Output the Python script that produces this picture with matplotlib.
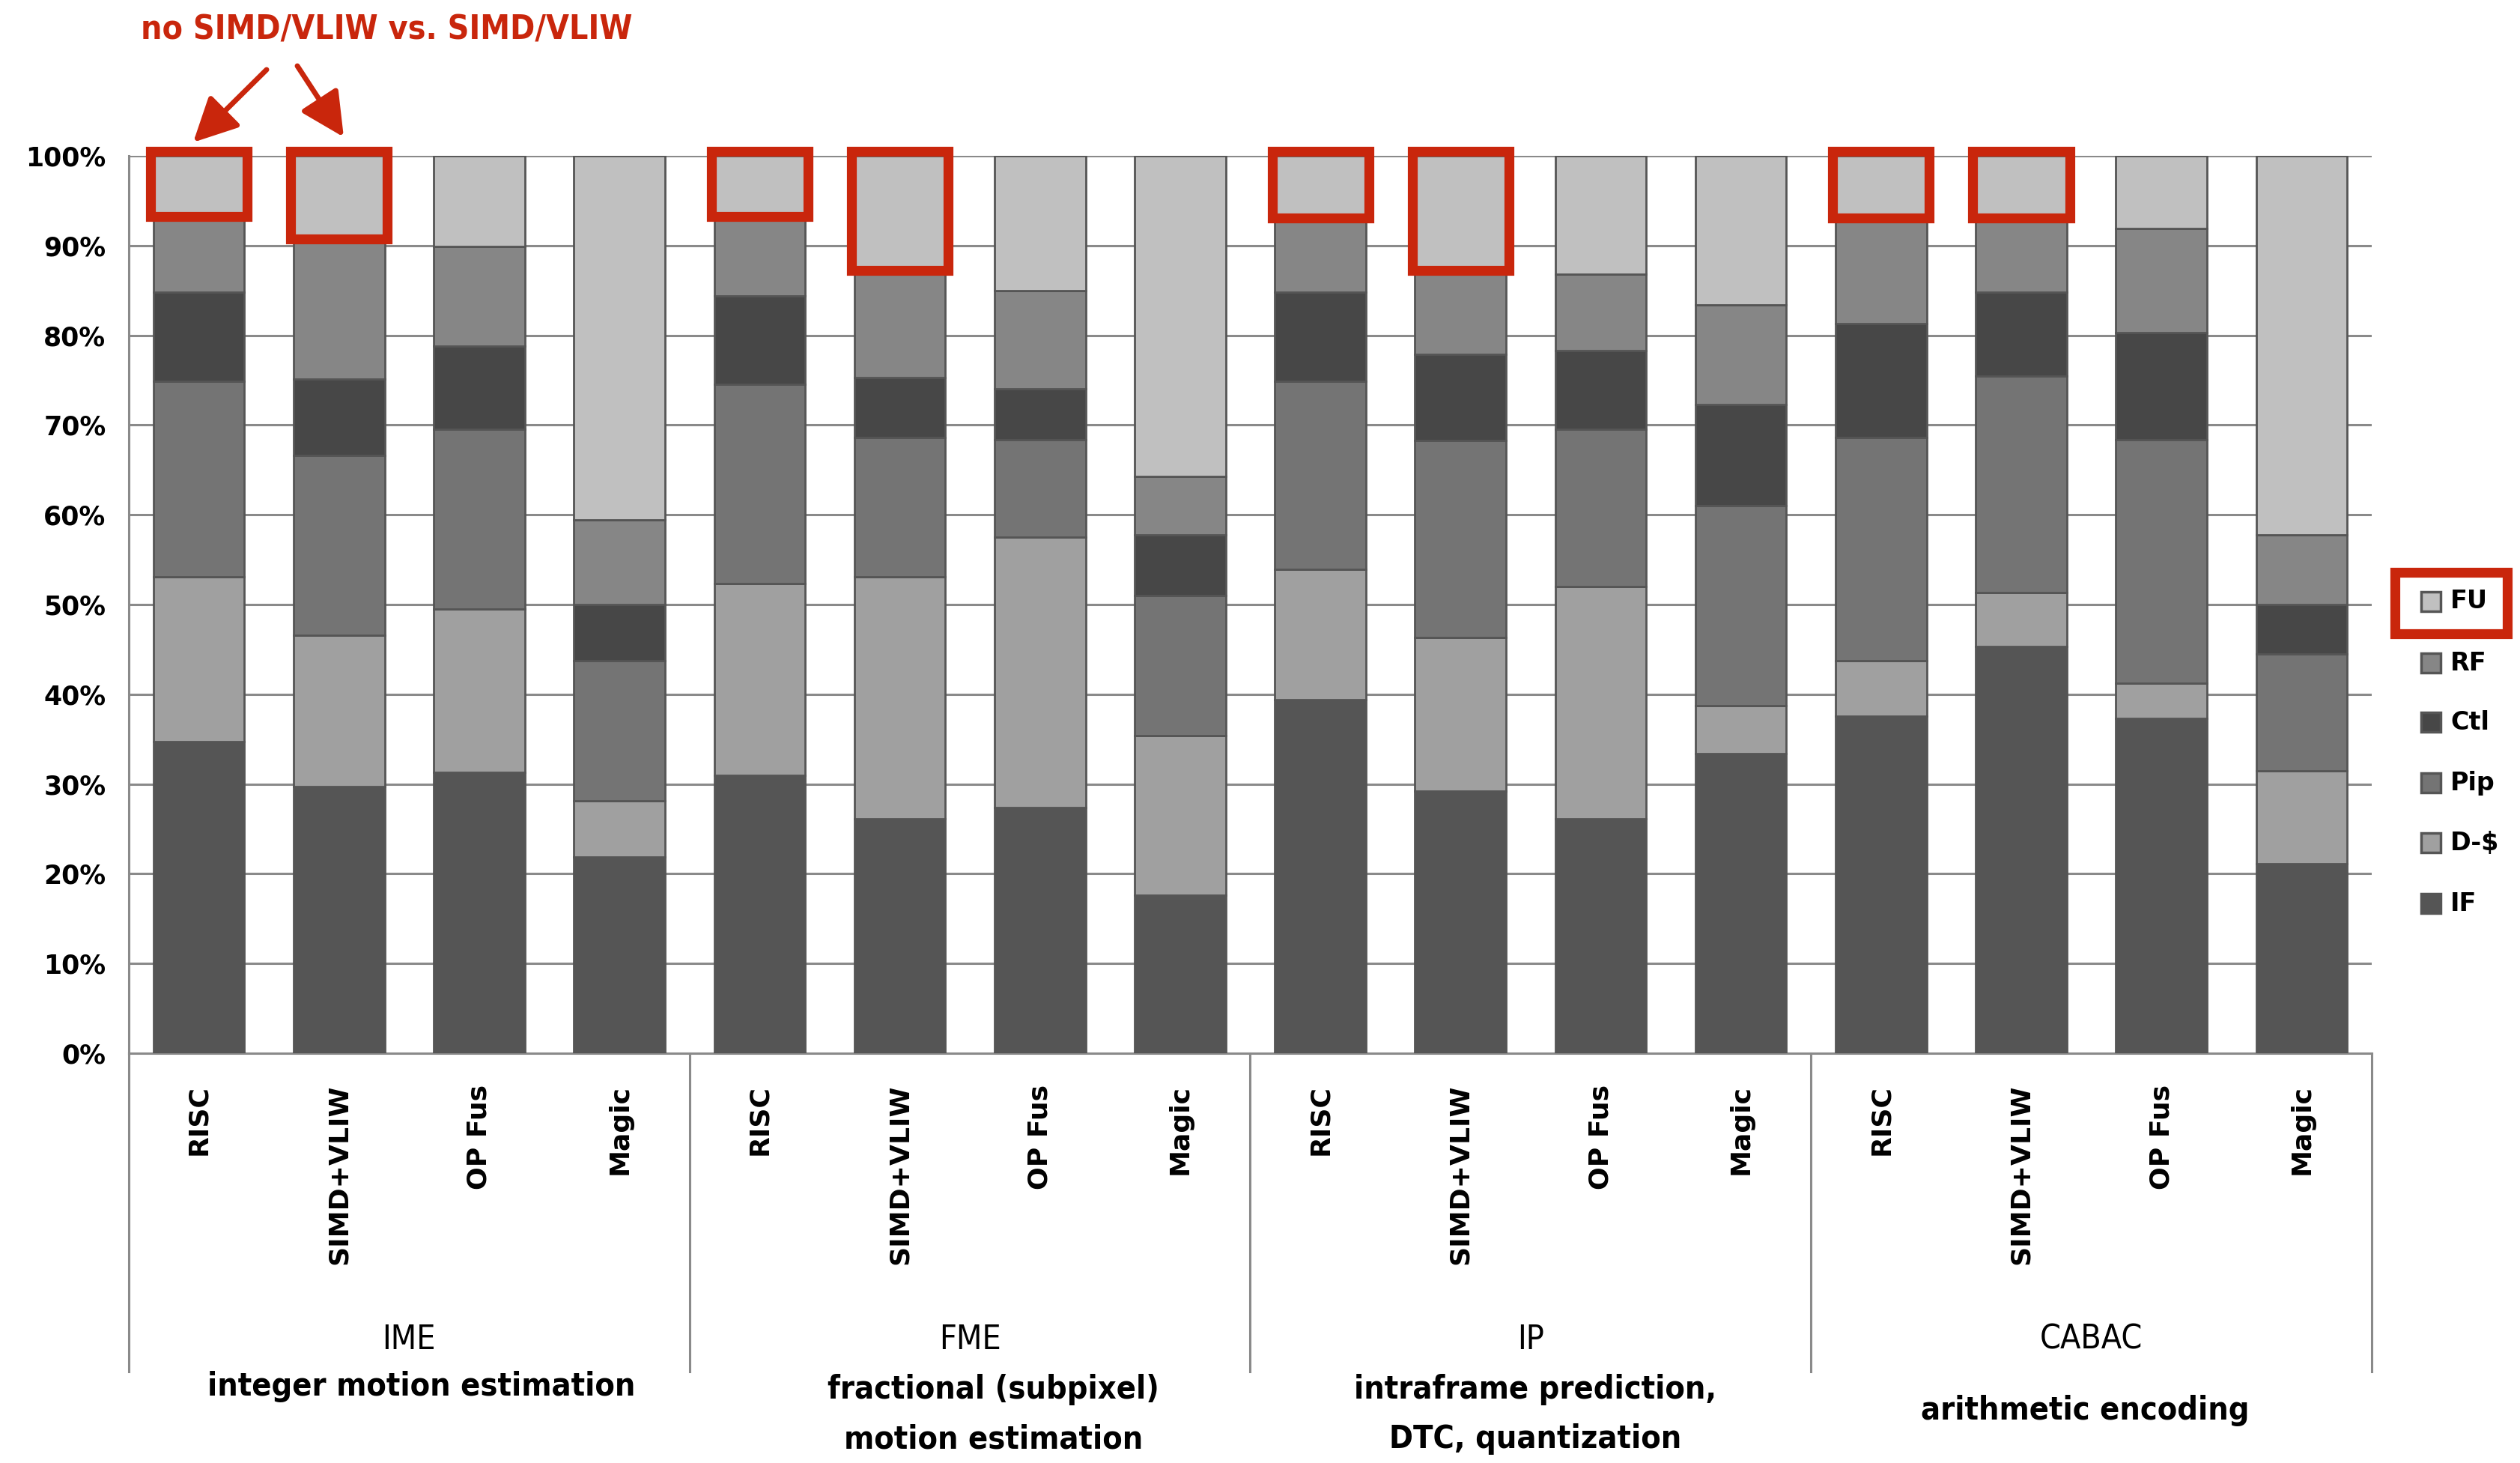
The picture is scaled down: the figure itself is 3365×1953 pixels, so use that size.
import matplotlib
matplotlib.use("Agg")
import matplotlib.pyplot as plt
from matplotlib.patches import Rectangle
import numpy as np

W, H = 3366, 1953

# data: percentage share per component, bottom to top
components = ["IF", "D-$", "Pip", "Ctl", "RF", "FU"]
bar_labels = ["RISC", "SIMD+VLIW", "OP Fus", "Magic"] * 4
groups = ["IME", "FME", "IP", "CABAC"]
group_desc = ["integer motion estimation", "fractional (subpixel)\nmotion estimation",
              "intraframe prediction,\nDTC, quantization", "arithmetic encoding"]

IF  = [34.7, 29.7, 31.3, 21.9, 31.0, 26.1, 27.4, 17.6, 39.4, 29.2, 26.1, 33.4, 37.6, 45.3, 37.3, 21.1]
DS  = [18.4, 16.9, 18.2,  6.2, 21.3, 27.0, 30.1, 17.8, 14.5, 17.1, 25.9,  5.3,  6.1,  6.0,  3.9, 10.4]
PIP = [21.8, 20.0, 20.0, 15.6, 22.2, 15.5, 10.9, 15.6, 21.0, 22.0, 17.5, 22.3, 24.9, 24.2, 27.2, 13.0]
CTL = [ 9.9,  8.5,  9.3,  6.3,  9.9,  6.7,  5.6,  6.8,  9.9,  9.6,  8.8, 11.3, 12.7,  9.3, 11.9,  5.5]
RF  = [ 8.7, 15.9, 11.1,  9.4,  9.1, 12.2, 11.0,  6.5,  8.6,  9.6,  8.5, 11.1, 12.1,  8.6, 11.6,  7.8]
FU  = [ 6.5,  9.0, 10.1, 40.6,  6.5, 12.5, 15.0, 35.7,  6.6, 12.5, 13.2, 16.6,  6.6,  6.6,  8.1, 42.2]
series = [IF, DS, PIP, CTL, RF, FU]
colors = ["#555555", "#a0a0a0", "#747474", "#474747", "#868686", "#c0c0c0"]
highlight = [0, 1, 4, 5, 8, 9, 12, 13]

RED = "#c9260c"
GRID = "#8a8a8a"


def fx(px):
    return px / W


def fy(py):
    return 1 - py / H


fig = plt.figure(figsize=(W / 100, H / 100), dpi=100)
ax = fig.add_axes([fx(172), fy(1406), fx(3167) - fx(172), fy(208) - fy(1406)])

x = np.arange(len(bar_labels))
bw = 0.65
bottom = np.zeros(len(x))
for vals, col in zip(series, colors):
    ax.bar(x, vals, bw, bottom=bottom, color=col, edgecolor="#555555", linewidth=2, zorder=3)
    bottom += np.array(vals)

ax.set_xlim(-0.5, len(x) - 0.5)
ax.set_ylim(0, 100)
ax.set_yticks(np.arange(0, 101, 10))
ax.set_yticklabels([f"{v}%" for v in range(0, 101, 10)], fontsize=25, fontweight="bold")
ax.tick_params(axis="y", length=0, pad=22)
ax.set_xticks([])
ax.yaxis.grid(True, color=GRID, linewidth=2.2, zorder=0)
for s in ["top", "right"]:
    ax.spines[s].set_visible(False)
for s in ["left", "bottom"]:
    ax.spines[s].set_color(GRID)
    ax.spines[s].set_linewidth(2.2)

# red boxes around FU segments of RISC and SIMD+VLIW bars
fu_base = 100 - np.array(FU)
for i in highlight:
    ax.add_patch(Rectangle((x[i] - bw / 2 - 0.02, fu_base[i] - 0.3), bw + 0.04, 100.5 - fu_base[i] + 0.3,
                           fill=False, edgecolor=RED, linewidth=9.5, zorder=5, clip_on=False,
                           joinstyle="miter"))

# category labels and group separators
trans = ax.get_xaxis_transform()
for i, lab in enumerate(bar_labels):
    ax.text(x[i], -0.035, lab, transform=trans, rotation=90, ha="center", va="top",
            fontsize=26, fontweight="bold")
for g in range(len(groups) + 1):
    ax.plot([g * 4 - 0.5] * 2, [0, -0.355], transform=trans, color=GRID, linewidth=2.2, clip_on=False)

narrow = dict(family="DejaVu Sans", fontstretch="condensed")
desc_x = [262, 618, 955, 1297]
desc_y = [1851, 1888, 1888, 1883]
for g, name in enumerate(groups):
    ax.text(g * 4 + 1.5, -0.319, name, transform=trans, ha="center", va="center",
            fontsize=32, **narrow)
    fig.text(fx(desc_x[g] / 0.4658), fy(desc_y[g]), group_desc[g], ha="center", va="center",
             fontsize=31, fontweight="bold", linespacing=1.75, **narrow)

# legend, drawn by hand to the right of the plot
leg_y = [1206, 1125, 1045, 964, 885, 803]
for name, col, py in zip(components, colors, leg_y):
    fig.patches.append(Rectangle((fx(3233), fy(py + 13)), fx(26), 26 / H, transform=fig.transFigure,
                                 facecolor=col, edgecolor="#555555", linewidth=2.5))
    fig.text(fx(3272), fy(py), name, ha="left", va="center", fontsize=24, fontweight="bold")
fig.patches.append(Rectangle((fx(3198), fy(846)), fx(150), 82 / H, transform=fig.transFigure,
                             fill=False, edgecolor=RED, linewidth=9.5))

# annotation at the top
fig.text(fx(516), fy(40), "no SIMD/VLIW vs. SIMD/VLIW", ha="center", va="center",
         fontsize=32, fontweight="bold", color=RED, **narrow)
for start, end in [((356, 93), (258, 190)), ((397, 88), (459, 183))]:
    ax.annotate("", xy=(fx(end[0]), fy(end[1])), xycoords="figure fraction",
                xytext=(fx(start[0]), fy(start[1])), textcoords="figure fraction",
                arrowprops=dict(arrowstyle="-|>,head_length=1.2,head_width=0.6", color=RED,
                                lw=5, mutation_scale=30, shrinkA=0, shrinkB=0))

fig.savefig("out.png", dpi=100, facecolor="white")
